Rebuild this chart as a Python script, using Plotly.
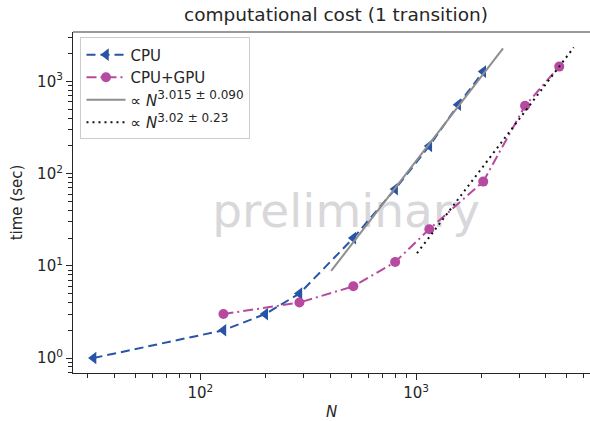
import plotly.graph_objects as go
import numpy as np

# ---- data ----
cpu_N = [32, 128, 200, 288, 512, 800, 1152, 1568, 2048]
cpu_t = [1.0, 2.0, 3.0, 5.0, 20, 68, 200, 560, 1280]

gpu_N = [128, 288, 512, 800, 1152, 2048, 3200, 4608]
gpu_t = [3.0, 4.0, 6.0, 11, 25, 82, 545, 1450]

fit_cpu_N = [404, 2530]
fit_cpu_t = [8.8, 2285]
fit_gpu_N = [1010, 5380]
fit_gpu_t = [13.7, 2340]

x_major = [100, 1000]
x_major_text = ["10<sup>2</sup>", "10<sup>3</sup>"]
y_major = [1, 10, 100, 1000]
y_major_text = ["10<sup>0</sup>", "10<sup>1</sup>", "10<sup>2</sup>", "10<sup>3</sup>"]

def minors(lo_exp, hi_exp):
    out = []
    for e in range(lo_exp, hi_exp + 1):
        for d in range(2, 10):
            out.append(d * 10 ** e)
    return out

x_minor = minors(1, 3)
y_minor = [0.7, 0.8, 0.9] + minors(0, 3)

FONT = "DejaVu Sans"
DARK = "#262626"

fig = go.Figure()

# watermark (drawn first so lines are on top)
fig.add_trace(go.Scatter(
    x=[474], y=[35], mode="text", text=["preliminary"],
    textfont=dict(family=FONT, size=47, color="#d8d8da"),
    showlegend=False, hoverinfo="skip"))

fig.add_trace(go.Scatter(
    x=cpu_N, y=cpu_t, name="CPU", mode="lines+markers",
    line=dict(color="#2754a6", width=2, dash="9px,5px"),
    marker=dict(symbol="triangle-left", size=11, color="#2754a6")))

fig.add_trace(go.Scatter(
    x=gpu_N, y=gpu_t, name="CPU+GPU", mode="lines+markers",
    line=dict(color="#b54aa0", width=2, dash="10px,4px,2px,4px"),
    marker=dict(symbol="circle", size=10, color="#b54aa0")))

fig.add_trace(go.Scatter(
    x=fit_cpu_N, y=fit_cpu_t,
    name="\u221d <i>N</i><sup><span style=\"font-size:12px\">3.015 \u00b1 0.090</span></sup>",
    mode="lines", line=dict(color="#8e8e8e", width=2)))

fig.add_trace(go.Scatter(
    x=fit_gpu_N, y=fit_gpu_t,
    name="\u221d <i>N</i><sup><span style=\"font-size:12px\">3.02 \u00b1 0.23</span></sup>",
    mode="lines", line=dict(color="#111111", width=2, dash="2px,4px")))

fig.update_layout(
    width=590, height=421,
    margin=dict(l=72.5, r=0, t=31.5, b=48),
    paper_bgcolor="white", plot_bgcolor="white",
    font=dict(family=FONT, size=15, color=DARK),
    title=dict(text="computational cost (1 transition)",
               x=336 / 590, xref="container", xanchor="center",
               y=1 - 15 / 421, yref="container", yanchor="middle",
               font=dict(family=FONT, size=18.5, color=DARK)),
    legend=dict(x=0.0145, y=0.984, xanchor="left", yanchor="top",
                bgcolor="white", bordercolor="#cccccc", borderwidth=1,
                font=dict(family=FONT, size=15, color=DARK),
                tracegroupgap=0, itemwidth=39),
    showlegend=True,
)

fig.update_xaxes(
    type="log", range=[np.log10(25.7), np.log10(6400)],
    showgrid=False, zeroline=False,
    showline=True, linecolor=DARK, linewidth=1.25,
    ticks="outside", ticklen=6, tickwidth=1.25, tickcolor=DARK,
    tickvals=x_major, ticktext=x_major_text,
    tickfont=dict(family=FONT, size=15, color=DARK),
    minor=dict(tickvals=x_minor, ticks="outside", ticklen=3.5, tickwidth=1, tickcolor=DARK, showgrid=False),
    title=dict(text="<i>N</i>", font=dict(family=FONT, size=15, color=DARK), standoff=6),
)

fig.update_yaxes(
    type="log", range=[-0.1625, 3.537],
    showgrid=False, zeroline=False,
    showline=True, linecolor=DARK, linewidth=1.25,
    ticks="outside", ticklen=6, tickwidth=1.25, tickcolor=DARK,
    tickvals=y_major, ticktext=y_major_text,
    tickfont=dict(family=FONT, size=15, color=DARK),
    minor=dict(tickvals=y_minor, ticks="outside", ticklen=3.5, tickwidth=1, tickcolor=DARK, showgrid=False),
    title=dict(text="time (sec)", font=dict(family=FONT, size=15, color=DARK), standoff=10),
)

# top spine (gray)
fig.add_shape(type="line", xref="paper", yref="paper", x0=0, x1=1, y0=1, y1=1,
              line=dict(color="#787878", width=1.5))

fig.write_html("out.html", config={"displayModeBar": False},
               post_script="document.body.style.margin='0px';")
